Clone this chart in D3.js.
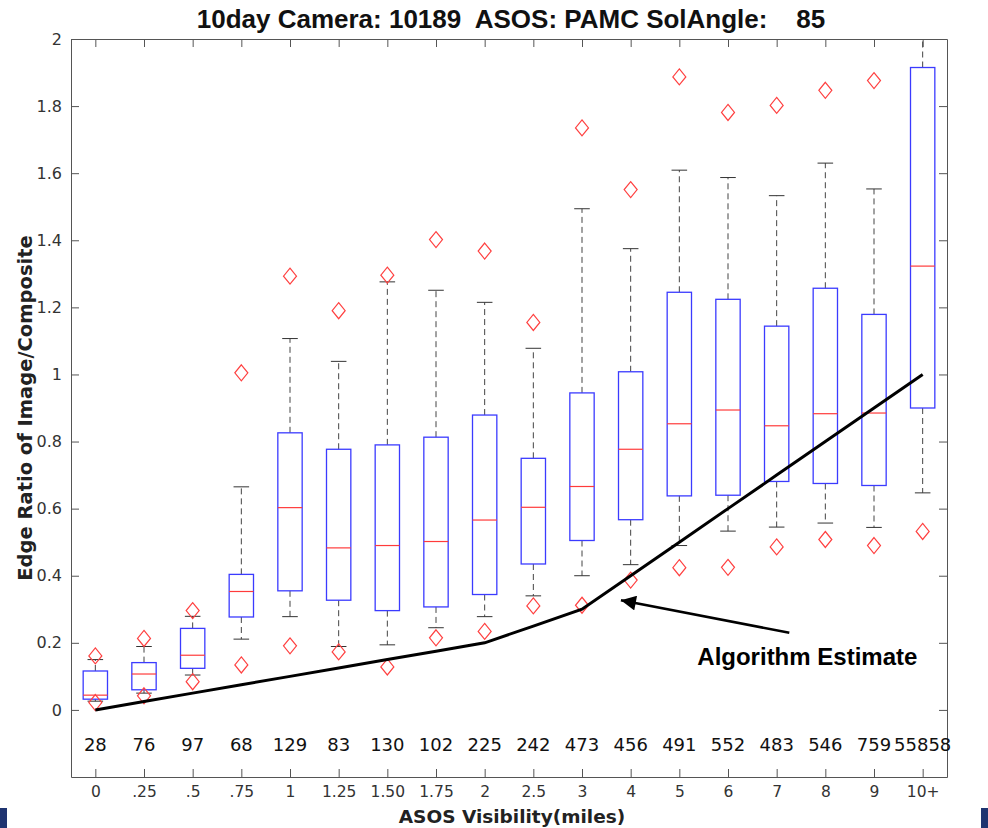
<!DOCTYPE html>
<html>
<head>
<meta charset="utf-8">
<script src="https://cdn.jsdelivr.net/npm/d3@7"></script>
<style>
  html, body { margin: 0; padding: 0; background: #fff; }
  svg { display: block; }
</style>
</head>
<body>
<div id="chart"></div>
<script>
// --- data ---
const categories = ['0', '.25', '.5', '.75', '1', '1.25', '1.50', '1.75', '2', '2.5', '3', '4', '5', '6', '7', '8', '9', '10+'];
const counts = [28, 76, 97, 68, 129, 83, 130, 102, 225, 242, 473, 456, 491, 552, 483, 546, 759, 55858];

const q1 = [0.032, 0.060, 0.124, 0.277, 0.355, 0.327, 0.296, 0.307, 0.344, 0.435, 0.505, 0.567, 0.638, 0.640, 0.681, 0.675, 0.669, 0.900];
const medians = [0.044, 0.107, 0.163, 0.353, 0.603, 0.483, 0.490, 0.502, 0.566, 0.604, 0.666, 0.777, 0.853, 0.894, 0.847, 0.883, 0.885, 1.323];
const q3 = [0.116, 0.141, 0.243, 0.404, 0.826, 0.777, 0.790, 0.813, 0.879, 0.750, 0.945, 1.008, 1.245, 1.224, 1.144, 1.257, 1.179, 1.915];
const whiskerLo = [0.026, 0.050, 0.104, 0.211, 0.278, 0.189, 0.194, 0.245, 0.278, 0.340, 0.400, 0.433, 0.490, 0.533, 0.545, 0.557, 0.544, 0.647];
const whiskerHi = [0.150, 0.189, 0.279, 0.665, 1.107, 1.039, 1.276, 1.251, 1.215, 1.078, 1.494, 1.375, 1.609, 1.587, 1.533, 1.630, 1.553, 2.100];
const outliersHi = [0.161, 0.213, 0.296, 1.005, 1.293, 1.190, 1.296, 1.402, 1.368, 1.155, 1.735, 1.551, 1.887, 1.781, 1.802, 1.847, 1.876, null];
const outliersLo = [0.022, 0.042, 0.084, 0.134, 0.191, 0.173, 0.128, 0.215, 0.234, 0.310, 0.312, 0.387, 0.424, 0.425, 0.486, 0.508, 0.490, 0.532];

const estimate = [0, 0.025, 0.05, 0.075, 0.1, 0.125, 0.15, 0.175, 0.2, 0.25, 0.3, 0.4, 0.5, 0.6, 0.7, 0.8, 0.9, 1.0];

const yTicks = [0, 0.2, 0.4, 0.6, 0.8, 1, 1.2, 1.4, 1.6, 1.8, 2];

const titleText = '10day Camera: 10189  ASOS: PAMC SolAngle:    85';
const xLabel = 'ASOS Visibility(miles)';
const yLabel = 'Edge Ratio of Image/Composite';
const noteText = 'Algorithm Estimate';
// annotation in data units: [category position, value]
const noteTail = [15.26, 0.23];
const noteTip = [11.8, 0.327];
const notePos = [15.63, 0.133];

// --- layout ---
const width = 988, height = 828;
const plot = { left: 71, right: 947, top: 39, bottom: 777 };

const svg = d3.select('#chart').append('svg')
    .attr('width', width)
    .attr('height', height);

const x = d3.scaleLinear().domain([0.5, categories.length + 0.5]).range([plot.left, plot.right]);
const y = d3.scaleLinear().domain([-0.2, 2]).range([plot.bottom, plot.top]);

const boxHalf = 0.25;   // category units
const capHalf = 0.16;

svg.append('defs').append('clipPath').attr('id', 'plotclip')
    .append('rect')
    .attr('x', plot.left).attr('y', plot.top)
    .attr('width', plot.right - plot.left).attr('height', plot.bottom - plot.top);

// --- axes (ticks point inward, MATLAB style) ---
const axisColor = '#555';
const tickFont = 'DejaVu Sans, sans-serif';
const idx = d3.range(1, categories.length + 1);

const xAxis = svg.append('g')
    .attr('transform', `translate(0,${plot.bottom})`)
    .call(d3.axisBottom(x).tickValues(idx).tickFormat(i => categories[i - 1])
        .tickSizeInner(-8).tickSizeOuter(0).tickPadding(9));

const xTop = svg.append('g')
    .attr('transform', `translate(0,${plot.top})`)
    .call(d3.axisTop(x).tickValues(idx).tickFormat('').tickSizeInner(-8).tickSizeOuter(0));

const yAxis = svg.append('g')
    .attr('transform', `translate(${plot.left},0)`)
    .call(d3.axisLeft(y).tickValues(yTicks).tickFormat(d3.format('~g'))
        .tickSizeInner(-8).tickSizeOuter(0).tickPadding(9));

const yRight = svg.append('g')
    .attr('transform', `translate(${plot.right},0)`)
    .call(d3.axisRight(y).tickValues(yTicks).tickFormat('').tickSizeInner(-8).tickSizeOuter(0));

[xAxis, xTop, yAxis, yRight].forEach(g => {
    g.selectAll('path, line').attr('stroke', axisColor).attr('stroke-width', 1);
    g.selectAll('text').attr('fill', '#333').style('font-family', tickFont).style('font-size', '15.5px');
});
yAxis.selectAll('text').style('font-size', '16px');

// --- boxes ---
const data = categories.map((c, i) => ({
    i: i + 1, q1: q1[i], med: medians[i], q3: q3[i],
    lo: whiskerLo[i], hi: whiskerHi[i],
    outs: [outliersHi[i], outliersLo[i]].filter(v => v != null)
}));

const boxes = svg.append('g').attr('clip-path', 'url(#plotclip)')
    .selectAll('g.box')
    .data(data)
    .enter()
    .append('g')
    .attr('class', 'box');

// whiskers (dashed)
boxes.append('line')
    .attr('x1', d => x(d.i)).attr('x2', d => x(d.i))
    .attr('y1', d => y(d.q3)).attr('y2', d => y(d.hi))
    .attr('stroke', '#444').attr('stroke-dasharray', '6,4');
boxes.append('line')
    .attr('x1', d => x(d.i)).attr('x2', d => x(d.i))
    .attr('y1', d => y(d.q1)).attr('y2', d => y(d.lo))
    .attr('stroke', '#444').attr('stroke-dasharray', '6,4');

// caps
boxes.selectAll('line.cap')
    .data(d => [{ i: d.i, v: d.hi }, { i: d.i, v: d.lo }])
    .enter()
    .append('line')
    .attr('class', 'cap')
    .attr('x1', d => x(d.i - capHalf)).attr('x2', d => x(d.i + capHalf))
    .attr('y1', d => y(d.v)).attr('y2', d => y(d.v))
    .attr('stroke', '#333');

// box
boxes.append('rect')
    .attr('x', d => x(d.i - boxHalf))
    .attr('width', d => x(d.i + boxHalf) - x(d.i - boxHalf))
    .attr('y', d => y(d.q3))
    .attr('height', d => y(d.q1) - y(d.q3))
    .attr('fill', 'none')
    .attr('stroke', '#3b3bff')
    .attr('stroke-width', 1.3);

// median
boxes.append('line')
    .attr('x1', d => x(d.i - boxHalf)).attr('x2', d => x(d.i + boxHalf))
    .attr('y1', d => y(d.med)).attr('y2', d => y(d.med))
    .attr('stroke', '#ff3b3b').attr('stroke-width', 1.2);

// outliers (red diamonds)
boxes.selectAll('path.out')
    .data(d => d.outs.map(v => ({ i: d.i, v })))
    .enter()
    .append('path')
    .attr('class', 'out')
    .attr('d', d => {
        const cx = x(d.i), cy = y(d.v);
        return `M${cx},${cy - 8}L${cx + 6.5},${cy}L${cx},${cy + 8}L${cx - 6.5},${cy}Z`;
    })
    .attr('fill', 'none')
    .attr('stroke', '#ff4040')
    .attr('stroke-width', 1.2);

// --- algorithm estimate line ---
const line = d3.line().x((d, i) => x(i + 1)).y(d => y(d));
svg.append('path')
    .datum(estimate)
    .attr('d', line)
    .attr('fill', 'none')
    .attr('stroke', '#000')
    .attr('stroke-width', 3);

// --- counts row ---
svg.append('g')
    .selectAll('text')
    .data(counts)
    .enter()
    .append('text')
    .attr('x', (d, i) => x(i + 1))
    .attr('y', y(-0.1))
    .attr('dy', '0.4em')
    .attr('text-anchor', 'middle')
    .style('font-family', tickFont)
    .style('font-size', '18px')
    .attr('fill', '#111')
    .text(d => d);

// --- annotation arrow ---
svg.append('defs').append('marker')
    .attr('id', 'arrowhead')
    .attr('viewBox', '0 0 10 10')
    .attr('refX', 10).attr('refY', 5)
    .attr('markerUnits', 'userSpaceOnUse')
    .attr('markerWidth', 17).attr('markerHeight', 15)
    .attr('orient', 'auto')
    .append('path')
    .attr('d', 'M0,0L10,5L0,10Z')
    .attr('fill', '#000');

svg.append('line')
    .attr('x1', x(noteTail[0])).attr('y1', y(noteTail[1]))
    .attr('x2', x(noteTip[0])).attr('y2', y(noteTip[1]))
    .attr('stroke', '#000').attr('stroke-width', 2.5)
    .attr('marker-end', 'url(#arrowhead)');

svg.append('text')
    .attr('x', x(notePos[0]))
    .attr('y', y(notePos[1]))
    .attr('text-anchor', 'middle')
    .style('font-family', 'Liberation Sans, Arial, sans-serif')
    .style('font-weight', 'bold')
    .style('font-size', '24px')
    .attr('fill', '#000')
    .text(noteText);

// --- titles ---
svg.append('text')
    .attr('x', 511)
    .attr('y', 28)
    .attr('text-anchor', 'middle')
    .style('white-space', 'pre')
    .style('font-family', 'Liberation Sans Narrow, Liberation Sans, sans-serif')
    .style('font-weight', 'bold')
    .style('font-size', '26px')
    .attr('fill', '#111')
    .text(titleText);

svg.append('text')
    .attr('x', 512)
    .attr('y', 823)
    .attr('text-anchor', 'middle')
    .style('font-family', tickFont)
    .style('font-weight', 'bold')
    .style('font-size', '18.5px')
    .attr('fill', '#222')
    .text(xLabel);

svg.append('text')
    .attr('transform', `translate(32,${(plot.top + plot.bottom) / 2}) rotate(-90)`)
    .attr('text-anchor', 'middle')
    .style('font-family', tickFont)
    .style('font-weight', 'bold')
    .style('font-size', '19.5px')
    .attr('fill', '#222')
    .text(yLabel);

// slide corner markers
svg.append('rect').attr('x', 0).attr('y', 808).attr('width', 7).attr('height', 20).attr('fill', '#1f3470');
svg.append('rect').attr('x', 981).attr('y', 808).attr('width', 7).attr('height', 20).attr('fill', '#1f3470');
</script>
</body>
</html>
